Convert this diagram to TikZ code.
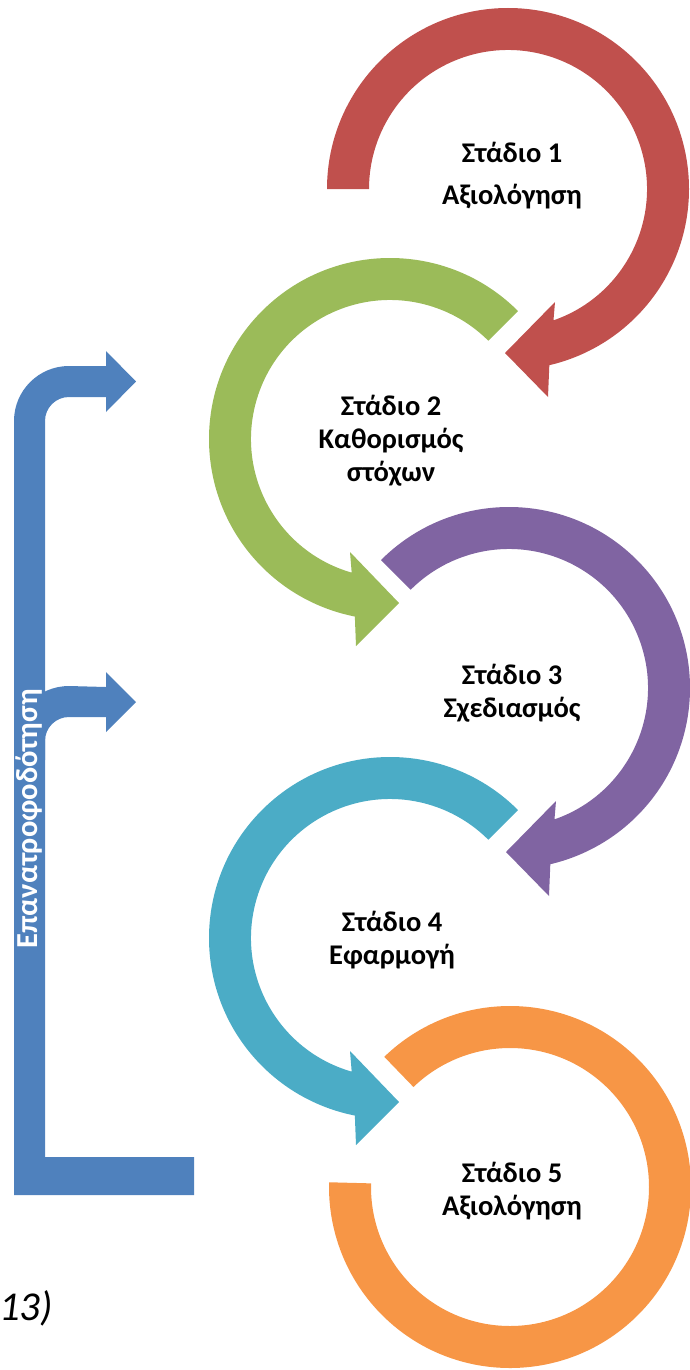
\documentclass[tikz,border=0pt]{standalone}
\usepackage{fontspec}
\setmainfont{Carlito}
\usetikzlibrary{calc}
\definecolor{cRed}{HTML}{C0504D}
\definecolor{cGreen}{HTML}{9BBB59}
\definecolor{cPurple}{HTML}{8064A2}
\definecolor{cCyan}{HTML}{4BACC6}
\definecolor{cOrange}{HTML}{F79646}
\definecolor{cBlue}{HTML}{4F81BD}
\begin{document}
\begin{tikzpicture}[x=1pt,y=1pt,yscale=-1,
  stagetext/.style={align=center,inner sep=0pt,font=\bfseries\fontsize{28.5}{33}\selectfont}]
\useasboundingbox (0,0) rectangle (690,1370);
% centers
\coordinate (C1) at (508,189);
\coordinate (C2) at (390,439);
\coordinate (C3) at (509,688);
\coordinate (C4) at (390,938);
\coordinate (C5) at (510,1187);
% red ring
\fill[cRed] ($(C1)+(180:181)$) arc[start angle=180,end angle=436.8,radius=181]
  -- ($(C1)+(40,208)$) -- ($(C1)+(-3,164)$) -- ($(C1)+(47,113)$)
  -- ($(C1)+(430.9:139)$) arc[start angle=430.9,end angle=180,radius=139] -- cycle;
% green ring
\fill[cGreen] ($(C2)+(-45:181)$) arc[start angle=-45,end angle=-258.8,radius=181]
  -- ($(C2)+(-34,207)$) -- ($(C2)+(9,164)$) -- ($(C2)+(-40,113)$)
  -- ($(C2)+(-254:139)$) arc[start angle=-254,end angle=-45,radius=139] -- cycle;
% purple ring
\fill[cPurple] ($(C3)+(225:181)$) arc[start angle=225,end angle=436.8,radius=181]
  -- ($(C3)+(40,208)$) -- ($(C3)+(-3,164)$) -- ($(C3)+(47,113)$)
  -- ($(C3)+(430.9:139)$) arc[start angle=430.9,end angle=225,radius=139] -- cycle;
% cyan ring
\fill[cCyan] ($(C4)+(-45:181)$) arc[start angle=-45,end angle=-258.8,radius=181]
  -- ($(C4)+(-34,207)$) -- ($(C4)+(9,164)$) -- ($(C4)+(-40,113)$)
  -- ($(C4)+(-254:139)$) arc[start angle=-254,end angle=-45,radius=139] -- cycle;
% orange ring
\fill[cOrange] ($(C5)+(226:181)$) arc[start angle=226,end angle=541.5,radius=181]
  -- ($(C5)+(541.5:139)$) arc[start angle=541.5,end angle=226,radius=139] -- cycle;
% feedback bracket
\fill[cBlue] (14,1195) -- (14,421) arc[start angle=180,end angle=270,radius=55]
  -- (106,366) -- (106,351) -- (136,381.5) -- (106,412) -- (106,397) -- (69,397)
  arc[start angle=270,end angle=180,radius=24] -- (45,1157) -- (194,1157) -- (194,1195) -- cycle;
\fill[cBlue] (14,760) -- (14,741) arc[start angle=180,end angle=270,radius=55]
  -- (106,687) -- (106,672) -- (136,702) -- (106,732) -- (106,717) -- (69,717)
  arc[start angle=270,end angle=180,radius=24] -- (45,760) -- cycle;
\node[rotate=90,text=white,inner sep=0pt,font=\bfseries\fontsize{30.5}{32}\selectfont] (fb) at (29.5,819) {Επανατροφοδότηση};
% stage labels
\node[stagetext,font=\bfseries\fontsize{28.5}{42}\selectfont] (s1) at (512,176) {Στάδιο 1\\Αξιολόγηση};
\node[stagetext] (s2) at (391,441) {Στάδιο 2\\Καθορισμός\\στόχων};
\node[stagetext] (s3) at (512,693) {Στάδιο 3\\Σχεδιασμός};
\node[stagetext] (s4) at (392,940) {Στάδιο 4\\Εφαρμογή};
\node[stagetext] (s5) at (512,1191) {Στάδιο 5\\Αξιολόγηση};
\node[anchor=base west,inner sep=0pt,font=\itshape\fontsize{41}{43}\selectfont] (cap) at (-1,1320) {13)};
\end{tikzpicture}
\end{document}
